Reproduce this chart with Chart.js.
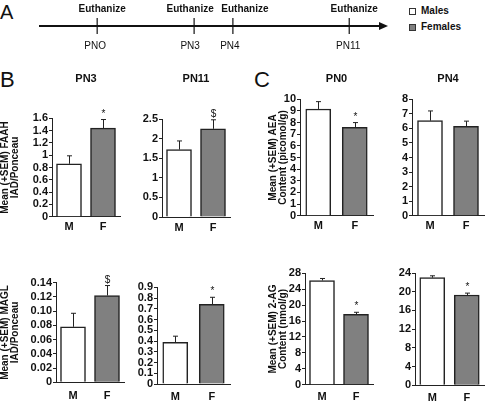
<!DOCTYPE html>
<html>
<head>
<meta charset="utf-8">
<script src="https://cdn.jsdelivr.net/npm/chart.js@4.4.1/dist/chart.umd.min.js"></script>
<style>
html,body{margin:0;padding:0;background:#fff;}
#wrap{position:relative;width:492px;height:401px;overflow:hidden;background:#fff;font-family:"Liberation Sans",Arial,sans-serif;color:#111;}
#wrap canvas{position:absolute;}
.letter{position:absolute;line-height:1;font-weight:normal;color:#111;}
.legtxt{position:absolute;font-size:10px;font-weight:bold;line-height:12px;color:#111;white-space:nowrap;}
.sw{position:absolute;width:5px;height:5px;border:1px solid #333;}
</style>
</head>
<body>
<div id="wrap"></div>
<script>
// ---------------- DATA ----------------
const sexes = ['M', 'F'];
const legendLabels = ['Males', 'Females'];

// Panel A timeline (schematic, not to scale)
const timelineEvents = ['PNO', 'PN3', 'PN4', 'PN11'];
const timelinePos = [0, 5, 7, 13];
const timelineActions = ['Euthanize', 'Euthanize', 'Euthanize', 'Euthanize'];

// Panel B: FAAH / MAGL protein (IAD/Ponceau), mean and SEM [M, F]
const faahPN3Mean = [0.86, 1.44];
const faahPN3Sem = [0.13, 0.14];
const faahPN3Sig = ['', '*'];
const faahPN11Mean = [1.72, 2.25];
const faahPN11Sem = [0.22, 0.23];
const faahPN11Sig = ['', '$'];
const maglPN3Mean = [0.078, 0.122];
const maglPN3Sem = [0.019, 0.014];
const maglPN3Sig = ['', '$'];
const maglPN11Mean = [0.388, 0.742];
const maglPN11Sem = [0.057, 0.065];
const maglPN11Sig = ['', '*'];

// Panel C: AEA (picomol/g) and 2-AG (nmol/g) content, mean and SEM [M, F]
const aeaPN0Mean = [9.17, 7.6];
const aeaPN0Sem = [0.63, 0.4];
const aeaPN0Sig = ['', '*'];
const aeaPN4Mean = [6.53, 6.14];
const aeaPN4Sem = [0.67, 0.36];
const aeaPN4Sig = ['', ''];
const agPN0Mean = [26.2, 17.7];
const agPN0Sem = [0.5, 0.5];
const agPN0Sig = ['', '*'];
const agPN4Mean = [23.0, 19.3];
const agPN4Sem = [0.4, 0.4];
const agPN4Sig = ['', '*'];

// Tick values and labels
const faahPN3Ticks = [0, 0.2, 0.4, 0.6, 0.8, 1, 1.2, 1.4, 1.6];
const faahPN3TickLabels = ['0', '0.2', '0.4', '0.6', '0.8', '1', '1.2', '1.4', '1.6'];
const faahPN11Ticks = [0, 0.5, 1, 1.5, 2, 2.5];
const faahPN11TickLabels = ['0', '0.5', '1', '1.5', '2', '2.5'];
const maglPN3Ticks = [0, 0.02, 0.04, 0.06, 0.08, 0.10, 0.12, 0.14];
const maglPN3TickLabels = ['0', '0.02', '0.04', '0.06', '0.08', '0.10', '0.12', '0.14'];
const maglPN11Ticks = [0, 0.1, 0.2, 0.3, 0.4, 0.5, 0.6, 0.7, 0.8, 0.9];
const maglPN11TickLabels = ['0', '0.1', '0.2', '0.3', '0.4', '0.5', '0.6', '0.7', '0.8', '0.9'];
const aeaPN0Ticks = [0, 1, 2, 3, 4, 5, 6, 7, 8, 9, 10];
const aeaPN0TickLabels = ['0', '1', '2', '3', '4', '5', '6', '7', '8', '9', '10'];
const aeaPN4Ticks = [0, 1, 2, 3, 4, 5, 6, 7, 8];
const aeaPN4TickLabels = ['0', '1', '2', '3', '4', '5', '6', '7', '8'];
const agPN0Ticks = [0, 4, 8, 12, 16, 20, 24, 28];
const agPN0TickLabels = ['0', '4', '8', '12', '16', '20', '24', '28'];
const agPN4Ticks = [0, 4, 8, 12, 16, 20, 24];
const agPN4TickLabels = ['0', '4', '8', '12', '16', '20', '24'];

// Texts
const panelLetters = ['A', 'B', 'C'];
const faahTitle = ['Mean (+SEM) FAAH', 'IAD/Ponceau'];
const maglTitle = ['Mean (+SEM) MAGL', 'IAD/Ponceau'];
const aeaTitle = ['Mean (+SEM) AEA', 'Content (picomol/g)'];
const agTitle = ['Mean (+SEM) 2-AG', 'Content (nmol/g)'];

// ---------------- STYLE / LAYOUT ----------------
const FONT = '"Liberation Sans", Arial, sans-serif';
const INK = '#111';
const LINE = '#222';
const barFill = ['#ffffff', '#808080'];
Chart.defaults.font.family = FONT;
Chart.defaults.color = INK;

const wrap = document.getElementById('wrap');

// panel letters
[[panelLetters[0], 0, 2, 20], [panelLetters[1], 0, 69, 22], [panelLetters[2], 254, 69, 22]].forEach(([t, l, tp, fs]) => {
  const d = document.createElement('div');
  d.className = 'letter'; d.textContent = t;
  d.style.left = l + 'px'; d.style.top = tp + 'px'; d.style.fontSize = fs + 'px';
  wrap.appendChild(d);
});

// legend
legendLabels.forEach((lab, i) => {
  const sw = document.createElement('div');
  sw.className = 'sw';
  sw.style.left = '409px'; sw.style.top = (8 + i * 16) + 'px';
  sw.style.background = barFill[i];
  wrap.appendChild(sw);
  const t = document.createElement('div');
  t.className = 'legtxt'; t.textContent = lab;
  t.style.left = '421px'; t.style.top = (5 + i * 16) + 'px';
  wrap.appendChild(t);
});

// ---------------- TIMELINE (panel A) ----------------
const actionShift = [5, -4, 12, 5];
const eventShift = [-2, -4, -3, -1];
const timelinePlugin = {
  id: 'timeline',
  beforeDatasetsDraw(chart) {
    const { ctx, chartArea: a, scales: { y } } = chart;
    const y0 = Math.round(y.getPixelForValue(0));
    ctx.save();
    ctx.strokeStyle = INK; ctx.lineWidth = 2;
    ctx.beginPath(); ctx.moveTo(a.left, y0); ctx.lineTo(a.right - 6, y0); ctx.stroke();
    ctx.fillStyle = INK;
    ctx.beginPath(); ctx.moveTo(a.right, y0); ctx.lineTo(a.right - 9, y0 - 4); ctx.lineTo(a.right - 9, y0 + 4); ctx.closePath(); ctx.fill();
    ctx.restore();
  },
  afterDatasetsDraw(chart) {
    const { ctx, scales: { x, y } } = chart;
    const y0 = Math.round(y.getPixelForValue(0));
    ctx.save();
    ctx.fillStyle = INK; ctx.textAlign = 'center'; ctx.textBaseline = 'middle';
    timelinePos.forEach((p, i) => {
      const px = x.getPixelForValue(p);
      ctx.font = 'bold 10px ' + FONT;
      ctx.fillText(timelineActions[i], px + actionShift[i], y0 - 17);
      ctx.font = '10px ' + FONT;
      ctx.fillText(timelineEvents[i], px + eventShift[i], y0 + 20);
    });
    ctx.restore();
  }
};
(function () {
  const c = document.createElement('canvas');
  c.width = 400; c.height = 52;
  c.style.left = '0px'; c.style.top = '0px'; c.style.width = '400px'; c.style.height = '52px';
  wrap.appendChild(c);
  new Chart(c, {
    type: 'scatter',
    data: { datasets: [{ data: timelinePos.map(p => ({ x: p, y: 0 })), pointStyle: 'line', pointRotation: 90, pointRadius: 8, borderColor: INK, pointBorderColor: INK, pointBorderWidth: 1.2, showLine: false }] },
    options: {
      responsive: false, animation: false, devicePixelRatio: 1,
      layout: { padding: { left: 39, right: 12, top: 0, bottom: 4 } },
      plugins: { legend: { display: false }, tooltip: { enabled: false } },
      scales: { x: { type: 'linear', min: -3, max: 15, display: false }, y: { min: -1, max: 1, display: false } }
    },
    plugins: [timelinePlugin]
  });
})();

// ---------------- BAR CHARTS ----------------
function errorBarPlugin(sem, sig) {
  return {
    id: 'errbars',
    afterDatasetsDraw(chart) {
      const ctx = chart.ctx, meta = chart.getDatasetMeta(0), ys = chart.scales.y;
      const vals = chart.data.datasets[0].data;
      ctx.save();
      meta.data.forEach((bar, i) => {
        const yt = ys.getPixelForValue(vals[i] + sem[i]);
        const x = Math.round(bar.x) + 0.5;
        ctx.strokeStyle = LINE; ctx.lineWidth = 1;
        ctx.beginPath();
        ctx.moveTo(x, bar.y); ctx.lineTo(x, yt);
        ctx.moveTo(x - 2.5, yt); ctx.lineTo(x + 2.5, yt);
        ctx.stroke();
        if (sig[i]) {
          ctx.font = '10px ' + FONT; ctx.fillStyle = INK;
          ctx.textAlign = 'center'; ctx.textBaseline = 'alphabetic';
          ctx.fillText(sig[i], x, yt - 3);
        }
      });
      ctx.restore();
    }
  };
}

function barChart(spec, L) {
  const hasTitle = !!spec.title;
  const xh = 26;
  const Tc = hasTitle ? Math.round(L.titleY - 6.6) : Math.floor(L.top - 14);
  const W = Math.ceil(L.right + 2 - L.left);
  const H = Math.ceil(L.bottom + xh + 2 - Tc);
  const c = document.createElement('canvas');
  c.width = W; c.height = H;
  c.style.left = L.left + 'px'; c.style.top = Tc + 'px';
  c.style.width = W + 'px'; c.style.height = H + 'px';
  wrap.appendChild(c);
  const padTop = hasTitle ? 0 : (L.top - Tc);
  const padBottom = H - (L.bottom - Tc) - xh;
  const padRight = W - (L.right - L.left);
  const ticks = spec.ticks, tickLabels = spec.tickLabels;
  new Chart(c, {
    type: 'bar',
    data: {
      labels: sexes,
      datasets: [{ data: spec.mean, backgroundColor: barFill, borderColor: LINE, borderWidth: 1.5, barThickness: 25, borderSkipped: 'start' }]
    },
    options: {
      responsive: false, animation: false, devicePixelRatio: 1,
      layout: { padding: { top: padTop, bottom: padBottom, left: 0, right: padRight } },
      plugins: {
        legend: { display: false }, tooltip: { enabled: false },
        title: {
          display: hasTitle, text: spec.title || '', fullSize: false, color: INK,
          font: { size: 11, weight: 'bold', lineHeight: 1.2 },
          padding: { top: 0, bottom: hasTitle ? (L.top - Tc - 13.2) : 0 }
        }
      },
      scales: {
        x: {
          type: 'category', offset: true,
          grid: { display: false, drawTicks: false },
          border: { display: true, color: LINE, width: 1 },
          ticks: { font: { size: 11, weight: 'bold' }, color: INK, padding: L.xPad },
          afterFit: s => { s.height = xh; }
        },
        y: {
          min: 0, max: ticks[ticks.length - 1],
          afterBuildTicks: s => { s.ticks = ticks.map(v => ({ value: v })); },
          grid: { display: true, drawOnChartArea: false, drawTicks: true, tickLength: 3, color: LINE, lineWidth: 1 },
          border: { display: true, color: LINE, width: 1 },
          ticks: { autoSkip: false, font: { size: 11, weight: 'bold' }, color: INK, padding: 1,
                   callback: v => tickLabels[ticks.indexOf(v)] },
          title: spec.yTitle ? { display: true, text: spec.yTitle, color: INK, padding: 0, font: { size: 10, weight: 'bold', lineHeight: 1.0 } } : { display: false },
          afterFit: s => { s.width = L.axisX - L.left; }
        }
      }
    },
    plugins: [errorBarPlugin(spec.sem, spec.sig)]
  });
}

// layouts (pixel geometry)
barChart({ title: 'PN3', mean: faahPN3Mean, sem: faahPN3Sem, sig: faahPN3Sig, ticks: faahPN3Ticks, tickLabels: faahPN3TickLabels, yTitle: faahTitle },
         { left: 0, axisX: 52, right: 120, top: 118.3, bottom: 216.7, titleY: 79, xPad: 4 });
barChart({ title: 'PN11', mean: faahPN11Mean, sem: faahPN11Sem, sig: faahPN11Sig, ticks: faahPN11Ticks, tickLabels: faahPN11TickLabels },
         { left: 135, axisX: 162, right: 230, top: 119, bottom: 217, titleY: 79, xPad: 4 });
barChart({ title: 'PN0', mean: aeaPN0Mean, sem: aeaPN0Sem, sig: aeaPN0Sig, ticks: aeaPN0Ticks, tickLabels: aeaPN0TickLabels, yTitle: aeaTitle },
         { left: 268, axisX: 300, right: 373, top: 99.3, bottom: 215.7, titleY: 79, xPad: 4 });
barChart({ title: 'PN4', mean: aeaPN4Mean, sem: aeaPN4Sem, sig: aeaPN4Sig, ticks: aeaPN4Ticks, tickLabels: aeaPN4TickLabels },
         { left: 385, axisX: 412, right: 484, top: 99.3, bottom: 215.7, titleY: 79, xPad: 4 });
barChart({ mean: maglPN3Mean, sem: maglPN3Sem, sig: maglPN3Sig, ticks: maglPN3Ticks, tickLabels: maglPN3TickLabels, yTitle: maglTitle },
         { left: 0, axisX: 56, right: 124, top: 282.7, bottom: 382.3, xPad: 7 });
barChart({ mean: maglPN11Mean, sem: maglPN11Sem, sig: maglPN11Sig, ticks: maglPN11Ticks, tickLabels: maglPN11TickLabels },
         { left: 128, axisX: 157, right: 230, top: 287.3, bottom: 384, xPad: 6 });
barChart({ mean: agPN0Mean, sem: agPN0Sem, sig: agPN0Sig, ticks: agPN0Ticks, tickLabels: agPN0TickLabels, yTitle: agTitle },
         { left: 268, axisX: 305, right: 373, top: 273.3, bottom: 384.7, xPad: 6 });
barChart({ mean: agPN4Mean, sem: agPN4Sem, sig: agPN4Sig, ticks: agPN4Ticks, tickLabels: agPN4TickLabels },
         { left: 388, axisX: 415, right: 484, top: 273, bottom: 385.3, xPad: 6 });
</script>
</body>
</html>
